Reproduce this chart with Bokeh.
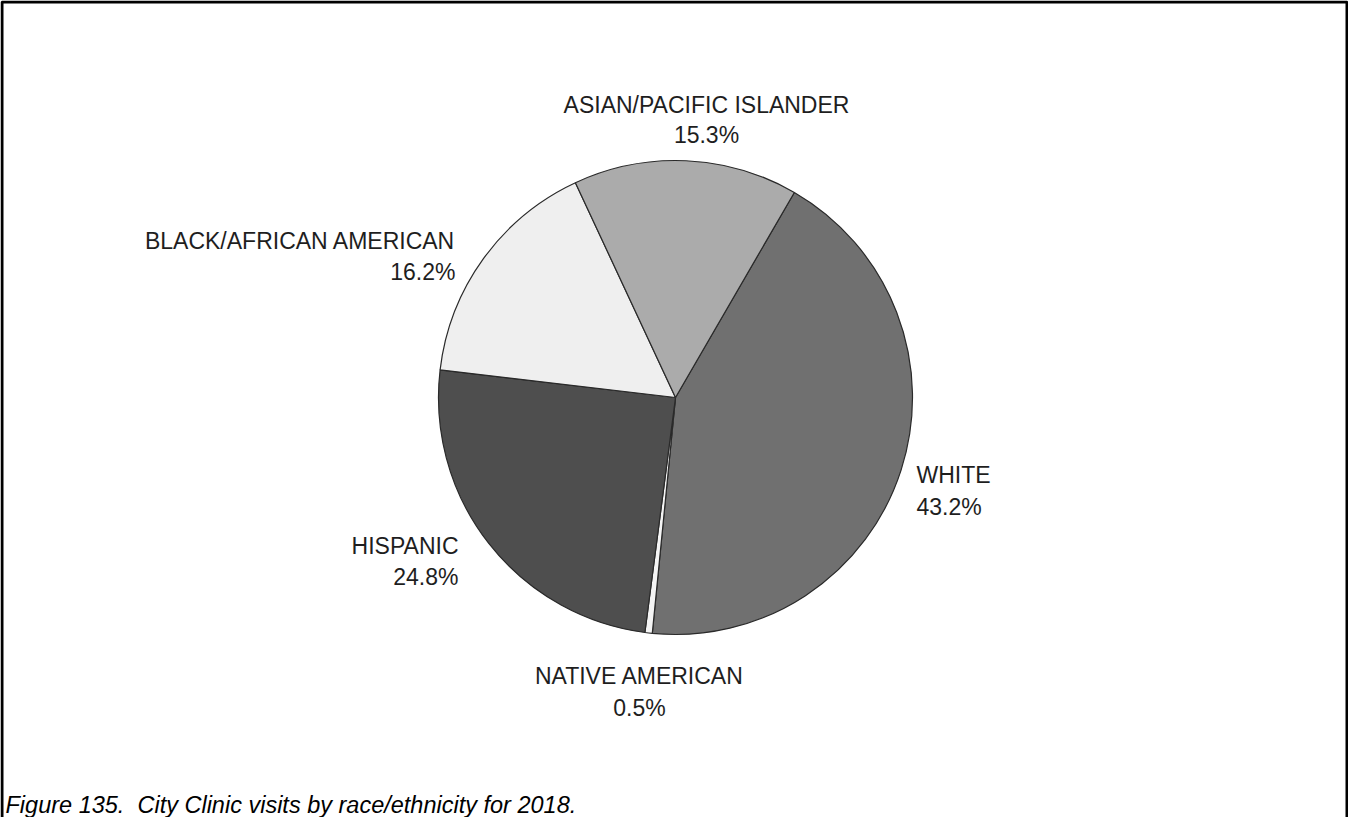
import math
from bokeh.plotting import figure
from bokeh.models import Range1d, ColumnDataSource
from bokeh.core.properties import value
from bokeh.embed import file_html
from bokeh.resources import INLINE

# ---- data (clockwise order starting at the upper-right) ----
categories = ["WHITE", "NATIVE AMERICAN", "HISPANIC", "BLACK/AFRICAN AMERICAN", "ASIAN/PACIFIC ISLANDER"]
percents = [43.2, 0.5, 24.8, 16.2, 15.3]
colors = ["#707070", "#f4f4f4", "#4e4e4e", "#efefef", "#ababab"]
caption = "Figure 135.\u00a0\u00a0City Clinic visits by race/ethnicity for 2018."

W, H = 1348, 817
PAGE_OFF = 8


def Y(page_y):
    return H - (page_y - PAGE_OFF)


def X(page_x):
    return page_x - PAGE_OFF


p = figure(width=W, height=H, output_backend="svg", toolbar_location=None,
           x_range=Range1d(0, W), y_range=Range1d(0, H), min_border=0)
p.axis.visible = False
p.grid.visible = False
p.outline_line_color = None
p.background_fill_color = "white"
p.border_fill_color = "white"

# ---- pie ----
cx, cy, R = X(683), Y(405), 237
start_deg = 59.9
total = sum(percents)
starts, ends = [], []
cum = 0.0
for v in percents:
    a_hi = math.radians(start_deg - 360.0 * cum / total)
    a_lo = math.radians(start_deg - 360.0 * (cum + v) / total)
    starts.append(a_lo)
    ends.append(a_hi)
    cum += v

src = ColumnDataSource(dict(x=[cx] * len(percents), y=[cy] * len(percents),
                            s=starts, e=ends, c=colors))
p.wedge(x="x", y="y", radius=R, radius_units="screen", start_angle="s", end_angle="e",
        direction="anticlock", fill_color="c", line_color="#2a2a2a", line_width=1.2, source=src)

# ---- labels ----
label_pos = {
    "WHITE": (924, 482, 514, "left"),
    "NATIVE AMERICAN": (647, 683, 715, "center"),
    "HISPANIC": (466, 553, 584, "right"),
    "BLACK/AFRICAN AMERICAN": (463, 248, 279, "right"),
    "ASIAN/PACIFIC ISLANDER": (714, 112, 142, "center"),
}
for cat, v in zip(categories, percents):
    lx, y1, y2, al = label_pos[cat]
    p.text(x=[X(lx), X(lx)], y=[Y(y1), Y(y2)], text=[cat, f"{v:.1f}%"],
           text_font=value("Liberation Sans"), text_font_size="23px",
           text_align=al, text_baseline="middle", text_color="#1e1e1e")

# ---- caption ----
p.text(x=[X(13)], y=[Y(812)], text=[caption], text_font=value("Liberation Sans"),
       text_font_size="23.5px", text_font_style="italic", text_align="left",
       text_baseline="middle", text_color="#000000")

# ---- frame border (left, top, right) ----
p.multi_line(xs=[[1.5, 1.5, W - 1.5, W - 1.5]], ys=[[0, H - 1.5, H - 1.5, 0]],
             line_color="black", line_width=3)

open("out.html", "w").write(file_html(p, INLINE))
